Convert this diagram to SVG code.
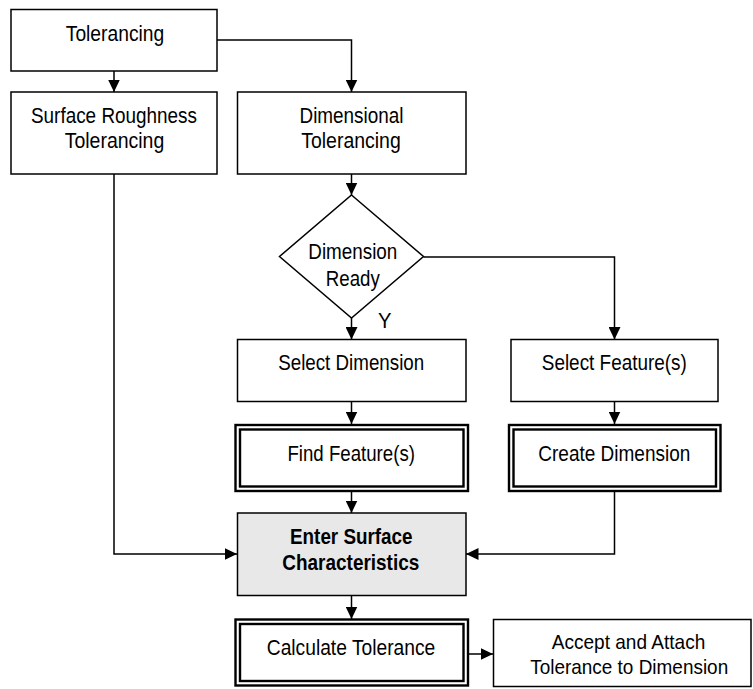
<svg xmlns="http://www.w3.org/2000/svg" width="753" height="689" viewBox="0 0 753 689">
<style>
  .box{fill:#fff;stroke:#000;stroke-width:1.5}
  .gray{fill:#e8e8e8;stroke:#000;stroke-width:1.5}
  .dbl{fill:none;stroke:#000;stroke-width:2.4}
  .t{font-family:"Liberation Sans",Arial,sans-serif;font-size:22px;fill:#000;text-anchor:middle}
  .s{font-size:21px}
  .b{font-weight:bold}
  .c{fill:none;stroke:#000;stroke-width:1.5}
</style>
<defs>
  <marker id="ah" markerUnits="userSpaceOnUse" markerWidth="13" markerHeight="12" refX="12.5" refY="6" orient="auto">
    <path d="M0,0 L12.5,6 L0,12 z" fill="#000"/>
  </marker>
</defs>
<rect width="753" height="689" fill="#fff"/>
<g id="connectors">
  <path class="c" d="M114,71 V92" marker-end="url(#ah)"/>
  <path class="c" d="M217,40 H351.5 V92" marker-end="url(#ah)"/>
  <path class="c" d="M351.5,174 V195" marker-end="url(#ah)"/>
  <path class="c" d="M351.5,318 V339.5" marker-end="url(#ah)"/>
  <path class="c" d="M423.5,257 H614.5 V339.5" marker-end="url(#ah)"/>
  <path class="c" d="M351.5,401.5 V424" marker-end="url(#ah)"/>
  <path class="c" d="M614.5,401.5 V424" marker-end="url(#ah)"/>
  <path class="c" d="M351.5,491 V513" marker-end="url(#ah)"/>
  <path class="c" d="M114,174 V554 H237" marker-end="url(#ah)"/>
  <path class="c" d="M614.5,491 V554 H466" marker-end="url(#ah)"/>
  <path class="c" d="M351.5,595.5 V619" marker-end="url(#ah)"/>
  <path class="c" d="M468,654 H493" marker-end="url(#ah)"/>
</g>
<g id="tolerancing">
  <rect class="box" x="11" y="9.5" width="206" height="61.5"/>
  <text class="t" x="115" y="41" textLength="98.5" lengthAdjust="spacingAndGlyphs">Tolerancing</text>
</g>
<g id="surface-roughness">
  <rect class="box" x="11" y="92" width="206" height="82"/>
  <text class="t" x="114" y="123" textLength="166" lengthAdjust="spacingAndGlyphs">Surface Roughness</text>
  <text class="t" x="114.5" y="148" textLength="99.5" lengthAdjust="spacingAndGlyphs">Tolerancing</text>
</g>
<g id="dimensional">
  <rect class="box" x="237.5" y="92" width="228.5" height="82"/>
  <text class="t" x="351.5" y="123" textLength="104" lengthAdjust="spacingAndGlyphs">Dimensional</text>
  <text class="t" x="351" y="148" textLength="99.5" lengthAdjust="spacingAndGlyphs">Tolerancing</text>
</g>
<g id="dimension-ready">
  <polygon class="box" points="351.5,195 423.5,256.5 351.5,318 279.5,256.5"/>
  <text class="t" x="352.8" y="259" textLength="89" lengthAdjust="spacingAndGlyphs">Dimension</text>
  <text class="t" x="352.8" y="286" textLength="54" lengthAdjust="spacingAndGlyphs">Ready</text>
  <text class="t" x="384.7" y="327.5" textLength="13.5" lengthAdjust="spacingAndGlyphs">Y</text>
</g>
<g id="select-dimension">
  <rect class="box" x="237.5" y="339.5" width="228.5" height="62"/>
  <text class="t" x="351.2" y="370" textLength="146" lengthAdjust="spacingAndGlyphs">Select Dimension</text>
</g>
<g id="select-features">
  <rect class="box" x="511" y="339.5" width="207" height="62"/>
  <text class="t" x="614.3" y="370" textLength="145" lengthAdjust="spacingAndGlyphs">Select Feature(s)</text>
</g>
<g id="find-features">
  <rect class="dbl" x="235.5" y="425" width="232.5" height="66"/>
  <rect class="dbl" x="240" y="429.5" width="223.5" height="57"/>
  <text class="t" x="351.2" y="461" textLength="127.5" lengthAdjust="spacingAndGlyphs">Find Feature(s)</text>
</g>
<g id="create-dimension">
  <rect class="dbl" x="509" y="425" width="211.5" height="66"/>
  <rect class="dbl" x="513.5" y="429.5" width="202.5" height="57"/>
  <text class="t" x="614.3" y="461" textLength="152" lengthAdjust="spacingAndGlyphs">Create Dimension</text>
</g>
<g id="enter-surface">
  <rect class="gray" x="237.5" y="513" width="228.5" height="82.5"/>
  <text class="t b" x="351.3" y="544" textLength="122.5" lengthAdjust="spacingAndGlyphs">Enter Surface</text>
  <text class="t b" x="350.8" y="570" textLength="137" lengthAdjust="spacingAndGlyphs">Characteristics</text>
</g>
<g id="calculate-tolerance">
  <rect class="dbl" x="235.5" y="619.5" width="232.5" height="66"/>
  <rect class="dbl" x="240" y="624" width="223.5" height="57"/>
  <text class="t" x="351" y="655" textLength="168.5" lengthAdjust="spacingAndGlyphs">Calculate Tolerance</text>
</g>
<g id="accept-attach">
  <rect class="box" x="493.5" y="619.5" width="257.5" height="67"/>
  <text class="t s" x="628.5" y="649" textLength="153.5" lengthAdjust="spacingAndGlyphs">Accept and Attach</text>
  <text class="t s" x="629.2" y="674" textLength="198" lengthAdjust="spacingAndGlyphs">Tolerance to Dimension</text>
</g>
</svg>
